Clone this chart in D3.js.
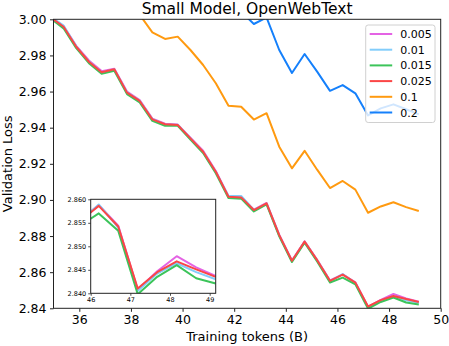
<!DOCTYPE html>
<html>
<head>
<meta charset="utf-8">
<script src="https://cdn.jsdelivr.net/npm/d3@7"></script>
<style>
  body { margin: 0; background: #fff; }
  text { font-family: "DejaVu Sans", sans-serif; fill: #000; }
</style>
</head>
<body>
<svg id="grafico"></svg>
<script>
// training tokens (B) at each eval step
const tokens = [34.898, 35.389, 35.881, 36.372, 36.864, 37.356, 37.847, 38.339, 38.830, 39.322,
  39.813, 40.305, 40.796, 41.288, 41.779, 42.271, 42.762, 43.254, 43.745, 44.237,
  44.728, 45.220, 45.711, 46.203, 46.694, 47.186, 47.677, 48.169, 48.660, 49.152];

const loss005 = [3.0012, 2.9962, 2.9853, 2.9772, 2.9713, 2.9726, 2.9600, 2.9553, 2.9450, 2.9422,
  2.9417, 2.9345, 2.9272, 2.9160, 2.9020, 2.9016, 2.8946, 2.8983, 2.8808, 2.8665,
  2.8771, 2.8667, 2.8554, 2.8588, 2.8544, 2.8408, 2.8447, 2.8479, 2.8455, 2.8437];
const loss01 = [3.0015, 2.9965, 2.9850, 2.9766, 2.9706, 2.9722, 2.9595, 2.9549, 2.9447, 2.9418,
  2.9416, 2.9342, 2.9266, 2.9155, 2.9022, 2.9022, 2.8945, 2.8980, 2.8804, 2.8662,
  2.8768, 2.8664, 2.8551, 2.8589, 2.8540, 2.8405, 2.8442, 2.8464, 2.8445, 2.8430];
const loss015 = [3.0003, 2.9950, 2.9840, 2.9757, 2.9698, 2.9715, 2.9586, 2.9540, 2.9438, 2.9410,
  2.9410, 2.9334, 2.9260, 2.9148, 2.9010, 2.9007, 2.8936, 2.8975, 2.8798, 2.8656,
  2.8763, 2.8658, 2.8543, 2.8570, 2.8533, 2.8398, 2.8435, 2.8460, 2.8432, 2.8421];
const loss025 = [3.0010, 2.9959, 2.9848, 2.9765, 2.9707, 2.9723, 2.9594, 2.9548, 2.9446, 2.9419,
  2.9415, 2.9341, 2.9267, 2.9156, 2.9018, 2.9014, 2.8944, 2.8981, 2.8805, 2.8663,
  2.8769, 2.8665, 2.8552, 2.8586, 2.8542, 2.8410, 2.8445, 2.8468, 2.8451, 2.8435];
const loss1 = [null, null, null, null, null, null, null, 3.0025, 2.9928, 2.9891,
  2.9904, 2.9830, 2.9747, 2.9646, 2.9522, 2.9516, 2.9445, 2.9480, 2.9295, 2.9175,
  2.9272, 2.9166, 2.9066, 2.9105, 2.9057, 2.8929, 2.8964, 2.8987, 2.8960, 2.8939];
const loss2 = [null, null, null, null, null, null, null, null, null, null,
  null, null, null, null, null, 3.0042, 2.9974, 3.0010, 2.9830, 2.9703,
  2.9808, 2.9709, 2.9604, 2.9636, 2.9590, 2.9468, 2.9507, 2.9529, 2.9502, 2.9474];

const rotulos = ['0.005', '0.01', '0.015', '0.025', '0.1', '0.2'];
const cores = ['#e463e4', '#82cdfb', '#3cc45a', '#fb4646', '#ff9a10', '#1580fb'];
const series = [loss005, loss01, loss015, loss025, loss1, loss2];

const xTicks = [36, 38, 40, 42, 44, 46, 48, 50];
const yTicks = [2.84, 2.86, 2.88, 2.90, 2.92, 2.94, 2.96, 2.98, 3.00];
const insetXTicks = [46, 47, 48, 49];
const insetYTicks = [2.840, 2.845, 2.850, 2.855, 2.860];

const largura = 449, altura = 346;
const margem = { esquerda: 53.5, direita: 8.3, superior: 19.3, inferior: 37.7 };

const svg = d3.select('#grafico').attr('width', largura).attr('height', altura);

const x = d3.scaleLinear().domain([35, 50]).range([margem.esquerda, largura - margem.direita]);
const y = d3.scaleLinear().domain([2.84, 3.00]).range([altura - margem.inferior, margem.superior]);

svg.append('clipPath').attr('id', 'clipMain')
  .append('rect')
  .attr('x', x(35)).attr('y', y(3.00))
  .attr('width', x(50) - x(35)).attr('height', y(2.84) - y(3.00));

const linha = (sx, sy) => d3.line()
  .defined(d => d[1] !== null)
  .x(d => sx(d[0]))
  .y(d => sy(d[1]));

const plot = svg.append('g').attr('clip-path', 'url(#clipMain)');
series.forEach((s, i) => {
  plot.append('path')
    .datum(tokens.map((t, j) => [t, s[j]]))
    .attr('fill', 'none')
    .attr('stroke', cores[i])
    .attr('stroke-width', 2)
    .attr('stroke-linejoin', 'round')
    .attr('d', linha(x, y));
});

// axes
svg.append('g')
  .attr('transform', `translate(0, ${y(2.84)})`)
  .call(d3.axisBottom(x).tickValues(xTicks).tickSize(3.5).tickPadding(3.5).tickFormat(d3.format('d')))
  .call(g => g.selectAll('text').attr('font-size', 12.5))
  .call(g => g.select('.domain').remove());

svg.append('g')
  .attr('transform', `translate(${x(35)}, 0)`)
  .call(d3.axisLeft(y).tickValues(yTicks).tickSize(3.5).tickPadding(3.5).tickFormat(d3.format('.2f')))
  .call(g => g.selectAll('text').attr('font-size', 12.5))
  .call(g => g.select('.domain').remove());

svg.selectAll('.tick line').attr('stroke', '#222');
svg.selectAll('.tick text').style('font-family', '"DejaVu Sans", sans-serif');

svg.append('rect')
  .attr('x', x(35)).attr('y', y(3.00))
  .attr('width', x(50) - x(35)).attr('height', y(2.84) - y(3.00))
  .attr('fill', 'none').attr('stroke', '#222').attr('stroke-width', 1);

// titles
svg.append('text')
  .attr('x', (x(35) + x(50)) / 2).attr('y', 13.5)
  .attr('text-anchor', 'middle').attr('font-size', 15.5)
  .text('Small Model, OpenWebText');

svg.append('text')
  .attr('x', (x(35) + x(50)) / 2).attr('y', 341)
  .attr('text-anchor', 'middle').attr('font-size', 13)
  .text('Training tokens (B)');

svg.append('text')
  .attr('transform', `translate(11.5, ${(y(2.84) + y(3.00)) / 2}) rotate(-90)`)
  .attr('text-anchor', 'middle').attr('font-size', 13)
  .text('Validation Loss');

// legend
const legenda = svg.append('g').attr('transform', 'translate(365.7, 25)');
legenda.append('rect')
  .attr('width', 69.3).attr('height', 97.5).attr('rx', 2.5)
  .attr('fill', '#fff').attr('fill-opacity', 0.8)
  .attr('stroke', '#d0d0d0').attr('stroke-width', 1);
rotulos.forEach((r, i) => {
  const ly = 9 + i * 15.7;
  legenda.append('line')
    .attr('x1', 4).attr('x2', 26.5).attr('y1', ly).attr('y2', ly)
    .attr('stroke', cores[i]).attr('stroke-width', 2);
  legenda.append('text')
    .attr('x', 34.5).attr('y', ly + 4)
    .attr('font-size', 11)
    .text(r);
});

// inset
const ix = d3.scaleLinear().domain([46, 49.152]).range([90.7, 215.7]);
const iy = d3.scaleLinear().domain([2.840, 2.860]).range([293.3, 199.3]);

svg.append('rect')
  .attr('x', ix(46)).attr('y', iy(2.860))
  .attr('width', ix(49.152) - ix(46)).attr('height', iy(2.840) - iy(2.860))
  .attr('fill', '#fff');

svg.append('clipPath').attr('id', 'clipInset')
  .append('rect')
  .attr('x', ix(46)).attr('y', iy(2.860))
  .attr('width', ix(49.152) - ix(46)).attr('height', iy(2.840) - iy(2.860));

const inset = svg.append('g').attr('clip-path', 'url(#clipInset)');
series.forEach((s, i) => {
  inset.append('path')
    .datum(tokens.map((t, j) => [t, s[j]]))
    .attr('fill', 'none')
    .attr('stroke', cores[i])
    .attr('stroke-width', 2)
    .attr('stroke-linejoin', 'round')
    .attr('d', linha(ix, iy));
});

const eixoInsetX = svg.append('g')
  .attr('transform', `translate(0, ${iy(2.840)})`)
  .call(d3.axisBottom(ix).tickValues(insetXTicks).tickSize(2.5).tickPadding(2).tickFormat(d3.format('d')));
const eixoInsetY = svg.append('g')
  .attr('transform', `translate(${ix(46)}, 0)`)
  .call(d3.axisLeft(iy).tickValues(insetYTicks).tickSize(2.5).tickPadding(2).tickFormat(d3.format('.3f')));
[eixoInsetX, eixoInsetY].forEach(g => {
  g.select('.domain').remove();
  g.selectAll('text').attr('font-size', 6.5).style('font-family', '"DejaVu Sans", sans-serif');
  g.selectAll('line').attr('stroke', '#222').attr('stroke-width', 0.8);
});

svg.append('rect')
  .attr('x', ix(46)).attr('y', iy(2.860))
  .attr('width', ix(49.152) - ix(46)).attr('height', iy(2.840) - iy(2.860))
  .attr('fill', 'none').attr('stroke', '#222').attr('stroke-width', 1);
</script>
</body>
</html>
